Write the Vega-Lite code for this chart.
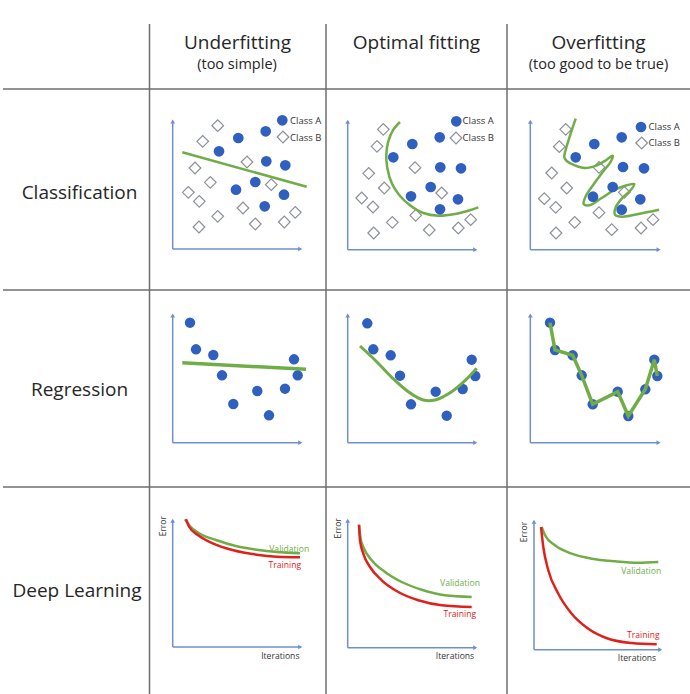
{
  "$schema": "https://vega.github.io/schema/vega-lite/v6.json",
  "width": 690,
  "height": 694,
  "padding": 0,
  "autosize": {"type": "none"},
  "background": "white",
  "config": {"view": {"stroke": null}},
  "datasets": {
    "grid": [
      {"x": 149.5, "y": 24, "x2": 149.5, "y2": 694},
      {"x": 326, "y": 24, "x2": 326, "y2": 694},
      {"x": 507, "y": 24, "x2": 507, "y2": 694},
      {"x": 3, "y": 89, "x2": 690, "y2": 89},
      {"x": 3, "y": 290, "x2": 690, "y2": 290},
      {"x": 3, "y": 487, "x2": 690, "y2": 487}
    ],
    "axes": [
      {"cell": "c1", "x": 172.7, "y": 249, "x2": 172.7, "y2": 121},
      {"cell": "c1", "x": 172.7, "y": 249, "x2": 300.7, "y2": 249},
      {"cell": "c2", "x": 347.7, "y": 249.7, "x2": 347.7, "y2": 121.3},
      {"cell": "c2", "x": 347.7, "y": 249.7, "x2": 475.7, "y2": 249.7},
      {"cell": "c3", "x": 530.3, "y": 249.7, "x2": 530.3, "y2": 121.3},
      {"cell": "c3", "x": 530.3, "y": 249.7, "x2": 659, "y2": 249.7},
      {"cell": "r1", "x": 172.7, "y": 442.7, "x2": 172.7, "y2": 315},
      {"cell": "r1", "x": 172.7, "y": 442.7, "x2": 300.7, "y2": 442.7},
      {"cell": "r2", "x": 347.7, "y": 442.7, "x2": 347.7, "y2": 315},
      {"cell": "r2", "x": 347.7, "y": 442.7, "x2": 475.7, "y2": 442.7},
      {"cell": "r3", "x": 530.3, "y": 442.7, "x2": 530.3, "y2": 315},
      {"cell": "r3", "x": 530.3, "y": 442.7, "x2": 659, "y2": 442.7},
      {"cell": "d1", "x": 172.7, "y": 647, "x2": 172.7, "y2": 520.3},
      {"cell": "d1", "x": 172.7, "y": 647, "x2": 300.7, "y2": 647},
      {"cell": "d2", "x": 347.7, "y": 647.7, "x2": 347.7, "y2": 520.3},
      {"cell": "d2", "x": 347.7, "y": 647.7, "x2": 475.7, "y2": 647.7},
      {"cell": "d3", "x": 534, "y": 649.7, "x2": 534, "y2": 521.3},
      {"cell": "d3", "x": 534, "y": 649.7, "x2": 660.7, "y2": 649.7}
    ],
    "arrows": [
      {"dir": "up", "x": 172.7, "y": 121.5}, {"dir": "right", "x": 300.2, "y": 249},
      {"dir": "up", "x": 347.7, "y": 121.8}, {"dir": "right", "x": 475.2, "y": 249.7},
      {"dir": "up", "x": 530.3, "y": 121.8}, {"dir": "right", "x": 658.5, "y": 249.7},
      {"dir": "up", "x": 172.7, "y": 315.5}, {"dir": "right", "x": 300.2, "y": 442.7},
      {"dir": "up", "x": 347.7, "y": 315.5}, {"dir": "right", "x": 475.2, "y": 442.7},
      {"dir": "up", "x": 530.3, "y": 315.5}, {"dir": "right", "x": 658.5, "y": 442.7},
      {"dir": "up", "x": 172.7, "y": 520.8}, {"dir": "right", "x": 300.2, "y": 647},
      {"dir": "up", "x": 347.7, "y": 520.8}, {"dir": "right", "x": 475.2, "y": 647.7},
      {"dir": "up", "x": 534, "y": 521.8}, {"dir": "right", "x": 660.2, "y": 649.7}
    ],
    "classA": [
      {"cell": "c1", "x": 282.3, "y": 120.3}, {"cell": "c1", "x": 238.3, "y": 138}, {"cell": "c1", "x": 265.7, "y": 131.3},
      {"cell": "c1", "x": 219, "y": 151.3}, {"cell": "c1", "x": 266.3, "y": 161.3}, {"cell": "c1", "x": 285.3, "y": 165.3},
      {"cell": "c1", "x": 255.3, "y": 182}, {"cell": "c1", "x": 236, "y": 189.7}, {"cell": "c1", "x": 284, "y": 194.7},
      {"cell": "c1", "x": 264.7, "y": 206.3},
      {"cell": "c2", "x": 456.3, "y": 121.3}, {"cell": "c2", "x": 412.3, "y": 144}, {"cell": "c2", "x": 439.7, "y": 137.3},
      {"cell": "c2", "x": 393.3, "y": 157.3}, {"cell": "c2", "x": 440.3, "y": 167.3}, {"cell": "c2", "x": 461, "y": 168.3},
      {"cell": "c2", "x": 430.7, "y": 187}, {"cell": "c2", "x": 411, "y": 196.3}, {"cell": "c2", "x": 458, "y": 199.3},
      {"cell": "c2", "x": 440, "y": 209.3},
      {"cell": "c3", "x": 641, "y": 127}, {"cell": "c3", "x": 594.3, "y": 144}, {"cell": "c3", "x": 621.7, "y": 137.3},
      {"cell": "c3", "x": 575.7, "y": 157.3}, {"cell": "c3", "x": 623, "y": 167}, {"cell": "c3", "x": 644, "y": 168.3},
      {"cell": "c3", "x": 612.7, "y": 187}, {"cell": "c3", "x": 593, "y": 196.7}, {"cell": "c3", "x": 640.3, "y": 199.3},
      {"cell": "c3", "x": 621.7, "y": 209.7}
    ],
    "classB": [
      {"cell": "c1", "x": 217.7, "y": 125.7}, {"cell": "c1", "x": 202.7, "y": 141.3}, {"cell": "c1", "x": 283, "y": 137},
      {"cell": "c1", "x": 195, "y": 168}, {"cell": "c1", "x": 247, "y": 162}, {"cell": "c1", "x": 210.3, "y": 182.3},
      {"cell": "c1", "x": 271.3, "y": 184.7}, {"cell": "c1", "x": 188.3, "y": 192.3}, {"cell": "c1", "x": 199.3, "y": 201.3},
      {"cell": "c1", "x": 217.7, "y": 216.3}, {"cell": "c1", "x": 243, "y": 208}, {"cell": "c1", "x": 199, "y": 227},
      {"cell": "c1", "x": 255.3, "y": 224}, {"cell": "c1", "x": 284.3, "y": 222}, {"cell": "c1", "x": 295.3, "y": 212.3},
      {"cell": "c2", "x": 383.3, "y": 129.3}, {"cell": "c2", "x": 377, "y": 146.3}, {"cell": "c2", "x": 456, "y": 138},
      {"cell": "c2", "x": 368.7, "y": 173.3}, {"cell": "c2", "x": 415, "y": 167.7}, {"cell": "c2", "x": 384.3, "y": 188},
      {"cell": "c2", "x": 441.7, "y": 193}, {"cell": "c2", "x": 361.7, "y": 198}, {"cell": "c2", "x": 373, "y": 207},
      {"cell": "c2", "x": 415.7, "y": 215.3}, {"cell": "c2", "x": 392.3, "y": 222.3}, {"cell": "c2", "x": 373.7, "y": 233},
      {"cell": "c2", "x": 429.3, "y": 230}, {"cell": "c2", "x": 458.3, "y": 228}, {"cell": "c2", "x": 470.7, "y": 219.7},
      {"cell": "c3", "x": 565.7, "y": 129.3}, {"cell": "c3", "x": 559.3, "y": 146.7}, {"cell": "c3", "x": 641.7, "y": 143},
      {"cell": "c3", "x": 551.7, "y": 173}, {"cell": "c3", "x": 599, "y": 167.3}, {"cell": "c3", "x": 566.7, "y": 188},
      {"cell": "c3", "x": 624.3, "y": 192.3}, {"cell": "c3", "x": 544.3, "y": 198.7}, {"cell": "c3", "x": 555.7, "y": 207.3},
      {"cell": "c3", "x": 599, "y": 212.7}, {"cell": "c3", "x": 574.7, "y": 222.3}, {"cell": "c3", "x": 556, "y": 233},
      {"cell": "c3", "x": 611.7, "y": 229.7}, {"cell": "c3", "x": 641, "y": 228}, {"cell": "c3", "x": 653, "y": 219.7}
    ],
    "clsFits": [
      {"cell": "c1", "i": 0, "x": 182.3, "y": 152.3}, {"cell": "c1", "i": 1, "x": 306.7, "y": 186.7},
      {"cell": "c2", "i": 0, "x": 400, "y": 122}, {"cell": "c2", "i": 1, "x": 393.3, "y": 129.7},
      {"cell": "c2", "i": 2, "x": 388.3, "y": 141.3}, {"cell": "c2", "i": 3, "x": 386.3, "y": 154.7},
      {"cell": "c2", "i": 4, "x": 387.3, "y": 168}, {"cell": "c2", "i": 5, "x": 391.7, "y": 183},
      {"cell": "c2", "i": 6, "x": 399, "y": 194.7}, {"cell": "c2", "i": 7, "x": 410, "y": 205.3},
      {"cell": "c2", "i": 8, "x": 423.3, "y": 213}, {"cell": "c2", "i": 9, "x": 438.3, "y": 215.7},
      {"cell": "c2", "i": 10, "x": 455, "y": 214}, {"cell": "c2", "i": 11, "x": 468.3, "y": 210.7},
      {"cell": "c2", "i": 12, "x": 478.3, "y": 207.3},
      {"cell": "c3", "i": 0, "x": 575.7, "y": 118.7}, {"cell": "c3", "i": 1, "x": 570.3, "y": 134.7},
      {"cell": "c3", "i": 2, "x": 565.7, "y": 149.7}, {"cell": "c3", "i": 3, "x": 564.3, "y": 157.3},
      {"cell": "c3", "i": 4, "x": 567, "y": 161.3}, {"cell": "c3", "i": 5, "x": 573.3, "y": 164.7},
      {"cell": "c3", "i": 6, "x": 585, "y": 168}, {"cell": "c3", "i": 7, "x": 596.7, "y": 165.3},
      {"cell": "c3", "i": 8, "x": 606.7, "y": 159.7}, {"cell": "c3", "i": 9, "x": 612.7, "y": 155.7},
      {"cell": "c3", "i": 10, "x": 611, "y": 161.3}, {"cell": "c3", "i": 11, "x": 603.3, "y": 171.3},
      {"cell": "c3", "i": 12, "x": 593.3, "y": 184.7}, {"cell": "c3", "i": 13, "x": 585.7, "y": 196.3},
      {"cell": "c3", "i": 14, "x": 583.7, "y": 204}, {"cell": "c3", "i": 15, "x": 589, "y": 205.3},
      {"cell": "c3", "i": 16, "x": 601.7, "y": 198}, {"cell": "c3", "i": 17, "x": 615, "y": 189.7},
      {"cell": "c3", "i": 18, "x": 626.7, "y": 185.3}, {"cell": "c3", "i": 19, "x": 634.3, "y": 184},
      {"cell": "c3", "i": 20, "x": 631, "y": 189.7}, {"cell": "c3", "i": 21, "x": 622.3, "y": 198},
      {"cell": "c3", "i": 22, "x": 615.7, "y": 207.3}, {"cell": "c3", "i": 23, "x": 615, "y": 214.7},
      {"cell": "c3", "i": 24, "x": 622.3, "y": 216.7}, {"cell": "c3", "i": 25, "x": 638.3, "y": 214},
      {"cell": "c3", "i": 26, "x": 659, "y": 209.7}
    ],
    "regPoints": [
      {"cell": "r1", "x": 190, "y": 322.7}, {"cell": "r1", "x": 196, "y": 349.3}, {"cell": "r1", "x": 213.3, "y": 355},
      {"cell": "r1", "x": 222, "y": 375.3}, {"cell": "r1", "x": 233.3, "y": 404}, {"cell": "r1", "x": 257.3, "y": 391},
      {"cell": "r1", "x": 269, "y": 415.3}, {"cell": "r1", "x": 285, "y": 388.7}, {"cell": "r1", "x": 294, "y": 359.3},
      {"cell": "r1", "x": 297.7, "y": 375.3},
      {"cell": "r2", "x": 367.3, "y": 323.3}, {"cell": "r2", "x": 373.3, "y": 349.3}, {"cell": "r2", "x": 390.7, "y": 355.3},
      {"cell": "r2", "x": 400, "y": 375.7}, {"cell": "r2", "x": 411, "y": 404.3}, {"cell": "r2", "x": 435.7, "y": 391.7},
      {"cell": "r2", "x": 446.7, "y": 415.7}, {"cell": "r2", "x": 462.7, "y": 389}, {"cell": "r2", "x": 471.7, "y": 359.7},
      {"cell": "r2", "x": 475.3, "y": 376},
      {"cell": "r3", "x": 550, "y": 322.7}, {"cell": "r3", "x": 555, "y": 350}, {"cell": "r3", "x": 572.7, "y": 355.3},
      {"cell": "r3", "x": 581.7, "y": 375.3}, {"cell": "r3", "x": 592.7, "y": 404.3}, {"cell": "r3", "x": 617.7, "y": 391.7},
      {"cell": "r3", "x": 628.3, "y": 416}, {"cell": "r3", "x": 645.3, "y": 389.3}, {"cell": "r3", "x": 654.3, "y": 359.7},
      {"cell": "r3", "x": 657.3, "y": 376}
    ],
    "regFits": [
      {"cell": "r1", "i": 0, "x": 182.3, "y": 362.7}, {"cell": "r1", "i": 1, "x": 306, "y": 369.3},
      {"cell": "r2", "i": 0, "x": 360, "y": 346}, {"cell": "r2", "i": 1, "x": 375, "y": 360},
      {"cell": "r2", "i": 2, "x": 391.7, "y": 377.3}, {"cell": "r2", "i": 3, "x": 408.3, "y": 391.7},
      {"cell": "r2", "i": 4, "x": 423.3, "y": 400}, {"cell": "r2", "i": 5, "x": 435, "y": 400},
      {"cell": "r2", "i": 6, "x": 451.7, "y": 391.7}, {"cell": "r2", "i": 7, "x": 465, "y": 380.7},
      {"cell": "r2", "i": 8, "x": 476.7, "y": 368.3},
      {"cell": "r3", "i": 0, "x": 550, "y": 322.7}, {"cell": "r3", "i": 1, "x": 555, "y": 350},
      {"cell": "r3", "i": 2, "x": 572.7, "y": 355.3}, {"cell": "r3", "i": 3, "x": 581.7, "y": 375.3},
      {"cell": "r3", "i": 4, "x": 592.7, "y": 404.3}, {"cell": "r3", "i": 5, "x": 617.7, "y": 391.7},
      {"cell": "r3", "i": 6, "x": 628.3, "y": 416}, {"cell": "r3", "i": 7, "x": 645.3, "y": 389.3},
      {"cell": "r3", "i": 8, "x": 654.3, "y": 359.7}, {"cell": "r3", "i": 9, "x": 657.3, "y": 376}
    ],
    "curves": [
      {"cell": "d1", "series": "Validation", "i": 0, "x": 185, "y": 519.3},
      {"cell": "d1", "series": "Validation", "i": 1, "x": 190, "y": 526.3},
      {"cell": "d1", "series": "Validation", "i": 2, "x": 200, "y": 533.7},
      {"cell": "d1", "series": "Validation", "i": 3, "x": 216.7, "y": 540.3},
      {"cell": "d1", "series": "Validation", "i": 4, "x": 236.7, "y": 546.3},
      {"cell": "d1", "series": "Validation", "i": 5, "x": 256.7, "y": 549.7},
      {"cell": "d1", "series": "Validation", "i": 6, "x": 276.7, "y": 552},
      {"cell": "d1", "series": "Validation", "i": 7, "x": 300, "y": 553.3},
      {"cell": "d1", "series": "Training", "i": 0, "x": 186, "y": 519.3},
      {"cell": "d1", "series": "Training", "i": 1, "x": 189.3, "y": 527},
      {"cell": "d1", "series": "Training", "i": 2, "x": 198.3, "y": 535.3},
      {"cell": "d1", "series": "Training", "i": 3, "x": 213.3, "y": 543.7},
      {"cell": "d1", "series": "Training", "i": 4, "x": 233.3, "y": 550.3},
      {"cell": "d1", "series": "Training", "i": 5, "x": 256.7, "y": 554.7},
      {"cell": "d1", "series": "Training", "i": 6, "x": 276.7, "y": 556.7},
      {"cell": "d1", "series": "Training", "i": 7, "x": 300, "y": 557.3},
      {"cell": "d2", "series": "Validation", "i": 0, "x": 359, "y": 524.7},
      {"cell": "d2", "series": "Validation", "i": 1, "x": 360.5, "y": 538},
      {"cell": "d2", "series": "Validation", "i": 2, "x": 363.3, "y": 547},
      {"cell": "d2", "series": "Validation", "i": 3, "x": 371.7, "y": 560.3},
      {"cell": "d2", "series": "Validation", "i": 4, "x": 385, "y": 572},
      {"cell": "d2", "series": "Validation", "i": 5, "x": 401.7, "y": 582},
      {"cell": "d2", "series": "Validation", "i": 6, "x": 421.7, "y": 589.7},
      {"cell": "d2", "series": "Validation", "i": 7, "x": 445, "y": 595.3},
      {"cell": "d2", "series": "Validation", "i": 8, "x": 471.7, "y": 597},
      {"cell": "d2", "series": "Training", "i": 0, "x": 359, "y": 524.7},
      {"cell": "d2", "series": "Training", "i": 1, "x": 360, "y": 540.3},
      {"cell": "d2", "series": "Training", "i": 2, "x": 363.3, "y": 553.7},
      {"cell": "d2", "series": "Training", "i": 3, "x": 370, "y": 567},
      {"cell": "d2", "series": "Training", "i": 4, "x": 381.7, "y": 580.3},
      {"cell": "d2", "series": "Training", "i": 5, "x": 398.3, "y": 592},
      {"cell": "d2", "series": "Training", "i": 6, "x": 418.3, "y": 600.3},
      {"cell": "d2", "series": "Training", "i": 7, "x": 441.7, "y": 605.3},
      {"cell": "d2", "series": "Training", "i": 8, "x": 471.7, "y": 607},
      {"cell": "d3", "series": "Validation", "i": 0, "x": 541.7, "y": 527},
      {"cell": "d3", "series": "Validation", "i": 1, "x": 545, "y": 535.3},
      {"cell": "d3", "series": "Validation", "i": 2, "x": 555, "y": 545.3},
      {"cell": "d3", "series": "Validation", "i": 3, "x": 571.7, "y": 553.7},
      {"cell": "d3", "series": "Validation", "i": 4, "x": 591.7, "y": 558.7},
      {"cell": "d3", "series": "Validation", "i": 5, "x": 615, "y": 561.3},
      {"cell": "d3", "series": "Validation", "i": 6, "x": 638.3, "y": 562.7},
      {"cell": "d3", "series": "Validation", "i": 7, "x": 658.3, "y": 562},
      {"cell": "d3", "series": "Training", "i": 0, "x": 541, "y": 527},
      {"cell": "d3", "series": "Training", "i": 1, "x": 543.3, "y": 547},
      {"cell": "d3", "series": "Training", "i": 2, "x": 548.3, "y": 570.3},
      {"cell": "d3", "series": "Training", "i": 3, "x": 558.3, "y": 593.7},
      {"cell": "d3", "series": "Training", "i": 4, "x": 571.7, "y": 613.7},
      {"cell": "d3", "series": "Training", "i": 5, "x": 588.3, "y": 628.7},
      {"cell": "d3", "series": "Training", "i": 6, "x": 608.3, "y": 638.7},
      {"cell": "d3", "series": "Training", "i": 7, "x": 631.7, "y": 643},
      {"cell": "d3", "series": "Training", "i": 8, "x": 656.7, "y": 644.3}
    ],
    "headers": [
      {"label": "Underfitting", "x": 237.5, "y": 48.5, "role": "title"},
      {"label": "(too simple)", "x": 237, "y": 68.5, "role": "sub"},
      {"label": "Optimal fitting", "x": 416.5, "y": 48.5, "role": "title"},
      {"label": "Overfitting", "x": 598.5, "y": 48.5, "role": "title"},
      {"label": "(too good to be true)", "x": 598.5, "y": 68.5, "role": "sub"},
      {"label": "Classification", "x": 79.5, "y": 198.5, "role": "row"},
      {"label": "Regression", "x": 79.5, "y": 396, "role": "row"},
      {"label": "Deep Learning", "x": 77, "y": 597, "role": "row"}
    ],
    "smallLabels": [
      {"label": "Class A", "x": 290, "y": 120.5, "kind": "legend"},
      {"label": "Class B", "x": 290, "y": 137.5, "kind": "legend"},
      {"label": "Class A", "x": 462.5, "y": 121.3, "kind": "legend"},
      {"label": "Class B", "x": 462.5, "y": 138, "kind": "legend"},
      {"label": "Class A", "x": 648.5, "y": 127, "kind": "legend"},
      {"label": "Class B", "x": 648.5, "y": 143, "kind": "legend"},
      {"label": "Error", "x": 163, "y": 526.2, "kind": "error"},
      {"label": "Error", "x": 338, "y": 528.3, "kind": "error"},
      {"label": "Error", "x": 524.3, "y": 532, "kind": "error"},
      {"label": "Iterations", "x": 280.3, "y": 656.3, "kind": "iter"},
      {"label": "Iterations", "x": 455, "y": 656.3, "kind": "iter"},
      {"label": "Iterations", "x": 637, "y": 658, "kind": "iter"}
    ],
    "curveLabels": [
      {"label": "Validation", "series": "Validation", "x": 289.2, "y": 548.7},
      {"label": "Training", "series": "Training", "x": 284.8, "y": 564.5},
      {"label": "Validation", "series": "Validation", "x": 460, "y": 583.3},
      {"label": "Training", "series": "Training", "x": 459.8, "y": 614.2},
      {"label": "Validation", "series": "Validation", "x": 641.2, "y": 571.3},
      {"label": "Training", "series": "Training", "x": 643.3, "y": 634.8}
    ]
  },
  "encoding": {
    "x": {"field": "x", "type": "quantitative", "scale": {"domain": [0, 690], "nice": false, "zero": false}, "axis": null},
    "y": {"field": "y", "type": "quantitative", "scale": {"domain": [0, 694], "nice": false, "zero": false, "reverse": true}, "axis": null}
  },
  "layer": [
    {
      "data": {"name": "grid"},
      "mark": {"type": "rule", "color": "#6e6e6e", "strokeWidth": 1.5},
      "encoding": {"x2": {"field": "x2"}, "y2": {"field": "y2"}}
    },
    {
      "data": {"name": "axes"},
      "mark": {"type": "rule", "color": "#6f8fcf", "strokeWidth": 1.5},
      "encoding": {"x2": {"field": "x2"}, "y2": {"field": "y2"}}
    },
    {
      "data": {"name": "arrows"},
      "transform": [{"filter": "datum.dir == 'up'"}],
      "mark": {"type": "point", "shape": "triangle-up", "filled": true, "color": "#6f8fcf", "size": 22, "opacity": 1}
    },
    {
      "data": {"name": "arrows"},
      "transform": [{"filter": "datum.dir == 'right'"}],
      "mark": {"type": "point", "shape": "triangle-right", "filled": true, "color": "#6f8fcf", "size": 22, "opacity": 1}
    },
    {
      "data": {"name": "classB"},
      "mark": {"type": "point", "shape": "diamond", "fill": "white", "stroke": "#8a8f99", "strokeWidth": 1.2, "size": 135, "opacity": 1, "fillOpacity": 1}
    },
    {
      "data": {"name": "clsFits"},
      "mark": {"type": "line", "color": "#70ad47", "strokeWidth": 2.5, "interpolate": "catmull-rom"},
      "encoding": {"detail": {"field": "cell"}, "order": {"field": "i", "type": "quantitative"}}
    },
    {
      "data": {"name": "classA"},
      "mark": {"type": "circle", "color": "#2f5fbf", "size": 115, "opacity": 1}
    },
    {
      "data": {"name": "regPoints"},
      "mark": {"type": "circle", "color": "#2f5fbf", "size": 108, "opacity": 1}
    },
    {
      "data": {"name": "regFits"},
      "transform": [{"filter": "datum.cell == 'r2'"}],
      "mark": {"type": "line", "color": "#70ad47", "strokeWidth": 3, "interpolate": "catmull-rom"},
      "encoding": {"detail": {"field": "cell"}, "order": {"field": "i", "type": "quantitative"}}
    },
    {
      "data": {"name": "regFits"},
      "transform": [{"filter": "datum.cell != 'r2'"}],
      "mark": {"type": "line", "color": "#70ad47", "strokeWidth": 3.5},
      "encoding": {"detail": {"field": "cell"}, "order": {"field": "i", "type": "quantitative"}}
    },
    {
      "data": {"name": "curves"},
      "mark": {"type": "line", "strokeWidth": 2.5, "interpolate": "monotone"},
      "encoding": {
        "color": {"field": "series", "type": "nominal", "scale": {"domain": ["Validation", "Training"], "range": ["#70ad47", "#e0201b"]}, "legend": null},
        "detail": {"field": "cell"},
        "order": {"field": "i", "type": "quantitative"}
      }
    },
    {
      "data": {"name": "headers"},
      "transform": [{"filter": "datum.role == 'title'"}],
      "mark": {"type": "text", "font": "Open Sans", "fontSize": 19, "color": "#262626", "align": "center", "baseline": "alphabetic"},
      "encoding": {"text": {"field": "label"}}
    },
    {
      "data": {"name": "headers"},
      "transform": [{"filter": "datum.role == 'sub'"}],
      "mark": {"type": "text", "font": "Open Sans", "fontSize": 14.5, "color": "#262626", "align": "center", "baseline": "alphabetic"},
      "encoding": {"text": {"field": "label"}}
    },
    {
      "data": {"name": "headers"},
      "transform": [{"filter": "datum.role == 'row'"}],
      "mark": {"type": "text", "font": "Open Sans", "fontSize": 19, "color": "#262626", "align": "center", "baseline": "alphabetic"},
      "encoding": {"text": {"field": "label"}}
    },
    {
      "data": {"name": "smallLabels"},
      "transform": [{"filter": "datum.kind == 'legend'"}],
      "mark": {"type": "text", "font": "Open Sans", "fontSize": 9.5, "color": "#333333", "align": "left", "baseline": "middle"},
      "encoding": {"text": {"field": "label"}}
    },
    {
      "data": {"name": "smallLabels"},
      "transform": [{"filter": "datum.kind == 'error'"}],
      "mark": {"type": "text", "font": "Open Sans", "fontSize": 8.5, "color": "#333333", "align": "center", "baseline": "middle", "angle": 270},
      "encoding": {"text": {"field": "label"}}
    },
    {
      "data": {"name": "smallLabels"},
      "transform": [{"filter": "datum.kind == 'iter'"}],
      "mark": {"type": "text", "font": "Open Sans", "fontSize": 8.6, "color": "#333333", "align": "center", "baseline": "middle"},
      "encoding": {"text": {"field": "label"}}
    },
    {
      "data": {"name": "curveLabels"},
      "mark": {"type": "text", "font": "Open Sans", "fontSize": 8.6, "align": "center", "baseline": "middle"},
      "encoding": {
        "text": {"field": "label"},
        "color": {"field": "series", "type": "nominal", "scale": {"domain": ["Validation", "Training"], "range": ["#70ad47", "#e0201b"]}, "legend": null}
      }
    }
  ]
}
